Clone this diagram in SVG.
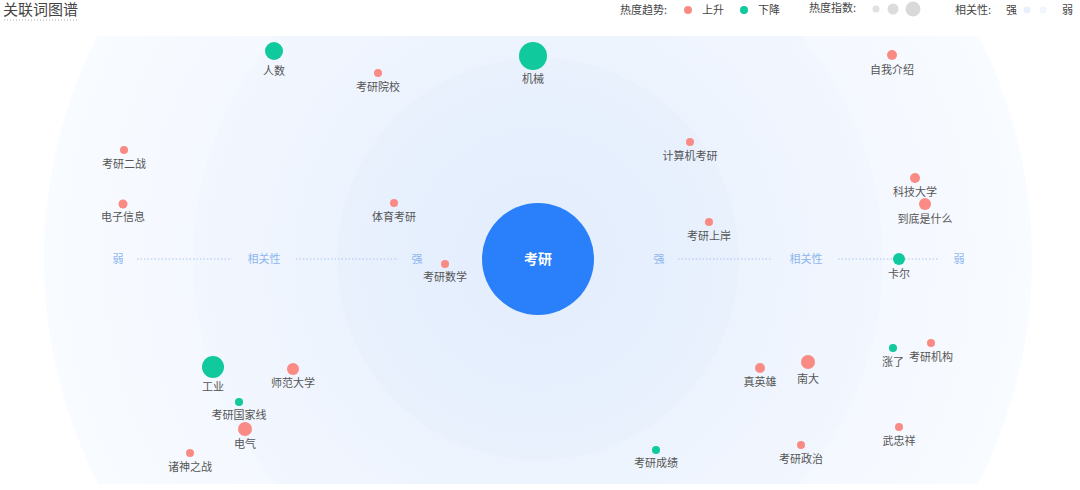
<svg xmlns="http://www.w3.org/2000/svg" width="1080" height="490" viewBox="0 0 1080 490">
<style>
text{font-family:"Noto Sans CJK SC","Noto Sans",sans-serif;}
.lbl{font-size:11px;fill:#555;text-anchor:middle;}
.up{fill:#fa8a84;}
.down{fill:#10c99c;}
.ax{font-size:11px;fill:#8db6ee;text-anchor:middle;}
.dot{stroke:#a9c6f0;stroke-width:1;stroke-dasharray:1.5 2;fill:none;}
.lg{font-size:11px;fill:#444;}
</style>
<defs>
<clipPath id="clip"><rect x="0" y="36" width="1080" height="448"/></clipPath>
<radialGradient id="g1" cx="538" cy="259" r="494" gradientUnits="userSpaceOnUse">
<stop offset="0.6" stop-color="#f3f7ff"/><stop offset="1" stop-color="#f8fbff"/>
</radialGradient>
<radialGradient id="g2" cx="538" cy="259" r="345" gradientUnits="userSpaceOnUse">
<stop offset="0.5" stop-color="#ecf3fe"/><stop offset="1" stop-color="#f2f6fe"/>
</radialGradient>
<radialGradient id="g3" cx="538" cy="259" r="201" gradientUnits="userSpaceOnUse">
<stop offset="0.3" stop-color="#e4eefd"/><stop offset="1" stop-color="#e9f1fd"/>
</radialGradient>
</defs>
<g id="title">
<text x="3" y="15" style="font-size:15px;fill:#444;">关联词图谱</text>
<line x1="4" y1="20" x2="78" y2="20" stroke="#aaa" stroke-width="1" stroke-dasharray="1 2"/>
</g>
<g id="legend">
<text class="lg" x="620" y="14">热度趋势:</text>
<circle class="up" cx="688" cy="10" r="4"/>
<text class="lg" x="702" y="14">上升</text>
<circle class="down" cx="744" cy="10" r="4"/>
<text class="lg" x="758" y="14">下降</text>
<text class="lg" x="809" y="12">热度指数:</text>
<circle cx="876" cy="9" r="3.5" fill="#e0e0e0"/>
<circle cx="893" cy="9" r="5.5" fill="#dcdcdc"/>
<circle cx="913" cy="9" r="7.5" fill="#d9d9d9"/>
<text class="lg" x="955" y="14">相关性:</text>
<text class="lg" x="1006" y="14">强</text>
<circle cx="1027" cy="10" r="3.5" fill="#e8effc"/>
<circle cx="1043" cy="10" r="3.5" fill="#f1f5fd"/>
<text class="lg" x="1062" y="14">弱</text>
</g>
<g id="background" clip-path="url(#clip)">
<circle cx="538" cy="259" r="494" fill="url(#g1)"/>
<circle cx="538" cy="259" r="345" fill="url(#g2)"/>
<circle cx="538" cy="259" r="201" fill="url(#g3)"/>
</g>
<g id="axis">
<text class="ax" x="118" y="263">弱</text>
<line class="dot" x1="137" y1="259" x2="232" y2="259"/>
<text class="ax" x="264" y="263">相关性</text>
<line class="dot" x1="296" y1="259" x2="398" y2="259"/>
<text class="ax" x="417" y="263">强</text>
<text class="ax" x="659" y="263">强</text>
<line class="dot" x1="678" y1="259" x2="772" y2="259"/>
<text class="ax" x="806" y="263">相关性</text>
<line class="dot" x1="838" y1="259" x2="938" y2="259"/>
<text class="ax" x="959" y="263">弱</text>
</g>
<g id="center">
<circle cx="538" cy="259" r="56" fill="#2a7ffa"/>
<text x="538" y="264" style="font-size:14px;fill:#fff;text-anchor:middle;font-weight:bold;">考研</text>
</g>
<g id="n-renshu"><circle class="down" cx="274" cy="51" r="9"/><text class="lbl" x="274" y="75">人数</text></g>
<g id="n-yuanxiao"><circle class="up" cx="378" cy="73" r="4"/><text class="lbl" x="378" y="91">考研院校</text></g>
<g id="n-jixie"><circle class="down" cx="533" cy="56" r="14"/><text class="lbl" x="533" y="83">机械</text></g>
<g id="n-ziwo"><circle class="up" cx="892" cy="55" r="5"/><text class="lbl" x="892" y="74">自我介绍</text></g>
<g id="n-erzhan"><circle class="up" cx="124" cy="150" r="4"/><text class="lbl" x="124" y="168">考研二战</text></g>
<g id="n-dianzi"><circle class="up" cx="123" cy="204" r="4.5"/><text class="lbl" x="123" y="221">电子信息</text></g>
<g id="n-tiyu"><circle class="up" cx="394" cy="203" r="4"/><text class="lbl" x="394" y="221">体育考研</text></g>
<g id="n-jisuanji"><circle class="up" cx="690" cy="142" r="4"/><text class="lbl" x="690" y="160">计算机考研</text></g>
<g id="n-keji"><circle class="up" cx="915" cy="178" r="5"/><text class="lbl" x="915" y="196">科技大学</text></g>
<g id="n-daodi"><circle class="up" cx="925" cy="204" r="6"/><text class="lbl" x="925" y="223">到底是什么</text></g>
<g id="n-shangan"><circle class="up" cx="709" cy="222" r="4"/><text class="lbl" x="709" y="240">考研上岸</text></g>
<g id="n-shuxue"><circle class="up" cx="445" cy="264" r="4"/><text class="lbl" x="445" y="281">考研数学</text></g>
<g id="n-kaer"><circle class="down" cx="899" cy="259" r="6"/><text class="lbl" x="899" y="278">卡尔</text></g>
<g id="n-gongye"><circle class="down" cx="213" cy="367" r="11"/><text class="lbl" x="213" y="391">工业</text></g>
<g id="n-shifan"><circle class="up" cx="293" cy="369" r="6"/><text class="lbl" x="293" y="387">师范大学</text></g>
<g id="n-guojiaxian"><circle class="down" cx="239" cy="402" r="4"/><text class="lbl" x="239" y="419">考研国家线</text></g>
<g id="n-dianqi"><circle class="up" cx="245" cy="429" r="7"/><text class="lbl" x="245" y="448">电气</text></g>
<g id="n-zhushen"><circle class="up" cx="190" cy="453" r="4"/><text class="lbl" x="190" y="471">诸神之战</text></g>
<g id="n-zhenyingxiong"><circle class="up" cx="760" cy="368" r="5"/><text class="lbl" x="760" y="386">真英雄</text></g>
<g id="n-nanda"><circle class="up" cx="808" cy="362" r="7"/><text class="lbl" x="808" y="383">南大</text></g>
<g id="n-zhangle"><circle class="down" cx="893" cy="348" r="4"/><text class="lbl" x="893" y="366">涨了</text></g>
<g id="n-jigou"><circle class="up" cx="931" cy="343" r="4"/><text class="lbl" x="931" y="361">考研机构</text></g>
<g id="n-wuzhongxiang"><circle class="up" cx="899" cy="427" r="4"/><text class="lbl" x="899" y="445">武忠祥</text></g>
<g id="n-chengji"><circle class="down" cx="656" cy="450" r="4"/><text class="lbl" x="656" y="467">考研成绩</text></g>
<g id="n-zhengzhi"><circle class="up" cx="801" cy="445" r="4"/><text class="lbl" x="801" y="463">考研政治</text></g>
<g id="connectors"></g>
</svg>
